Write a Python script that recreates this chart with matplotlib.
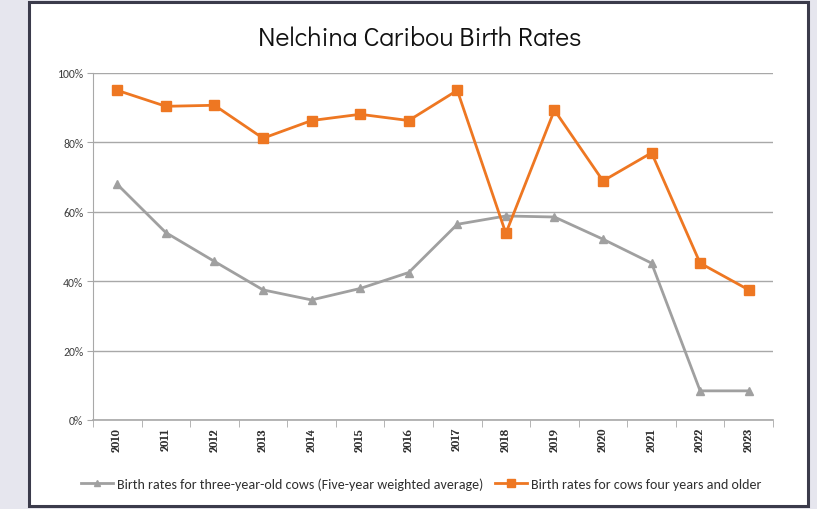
import matplotlib
matplotlib.use("Agg")
import matplotlib.pyplot as plt
from matplotlib.patches import Rectangle
from matplotlib.ticker import FuncFormatter, FixedLocator

years = ["2010", "2011", "2012", "2013", "2014", "2015", "2016",
         "2017", "2018", "2019", "2020", "2021", "2022", "2023"]
three_year_old = [67.9, 54.0, 45.7, 37.5, 34.6, 37.9, 42.5,
                  56.4, 58.8, 58.5, 52.1, 45.2, 8.4, 8.4]
four_plus = [95.0, 90.4, 90.7, 81.2, 86.3, 88.1, 86.3,
             95.0, 53.8, 89.3, 68.9, 77.0, 45.2, 37.5]
label_three = "Birth rates for three-year-old cows (Five-year weighted average)"
label_four = "Birth rates for cows four years and older"
title = "Nelchina Caribou Birth Rates"

W, H = 817, 510
fig = plt.figure(figsize=(W / 100, H / 100), dpi=100)
fig.patch.set_facecolor("#e6e6ee")

panel = Rectangle((28.5 / W, 1 - 507 / H), (808 - 28.5) / W, (507 - 3) / H,
                  transform=fig.transFigure, facecolor="white",
                  edgecolor="#3b3b4b", linewidth=2.2, zorder=-10)
fig.patches.append(panel)

ax = fig.add_axes([93 / W, 1 - 421 / H, (773 - 93) / W, (421 - 74) / H])
ax.set_zorder(5)
ax.set_facecolor("none")

x = list(range(len(years)))
ax.plot(x, three_year_old, color="#a0a0a0", linewidth=2, marker="^",
        markersize=6, label=label_three, zorder=3)
ax.plot(x, four_plus, color="#ee7722", linewidth=2, marker="s",
        markersize=7, label=label_four, zorder=4)

ax.set_xlim(-0.5, len(years) - 0.5)
ax.set_ylim(0, 100)
ax.set_yticks([0, 20, 40, 60, 80, 100])
ax.yaxis.set_major_formatter(FuncFormatter(lambda v, p: f"{int(v)}%"))
ax.grid(axis="y", color="#a8a8a8", linewidth=1)
ax.set_axisbelow(True)

ax.set_xticks(x)
ax.set_xticklabels(years, rotation=90, fontsize=8.5,
                   fontfamily=["Caladea", "DejaVu Serif"],
                   fontweight="bold", color="#303030")
ax.xaxis.set_minor_locator(FixedLocator([i - 0.5 for i in range(len(years) + 1)]))
ax.tick_params(axis="x", which="major", length=0, pad=5)
ax.tick_params(axis="x", which="minor", length=5, color="#a8a8a8", direction="out")
ax.tick_params(axis="y", length=4, color="#a8a8a8", labelsize=8.5,
               labelcolor="#404040", pad=3)
for lab in ax.get_yticklabels():
    lab.set_fontfamily(["Carlito", "DejaVu Sans"])

for s in ["top", "right"]:
    ax.spines[s].set_visible(False)
ax.spines["left"].set_color("#a8a8a8")
ax.spines["bottom"].set_color("#a8a8a8")
ax.spines["bottom"].set_linewidth(1.2)

fig.text(420 / W, 1 - 39 / H, title, ha="center", va="center",
         fontsize=19, fontfamily=["Didact Gothic", "DejaVu Sans"], color="#111111")

leg = fig.legend(loc="center", bbox_to_anchor=(421 / W, 1 - 485 / H),
                 ncol=2, frameon=False, handlelength=2.3,
                 columnspacing=0.8, handletextpad=0.3, markerscale=0.8,
                 prop={"family": ["Carlito", "DejaVu Sans"], "size": 10.1})
for t in leg.get_texts():
    t.set_color("#303030")

fig.savefig("out.png", dpi=100, facecolor=fig.get_facecolor())
